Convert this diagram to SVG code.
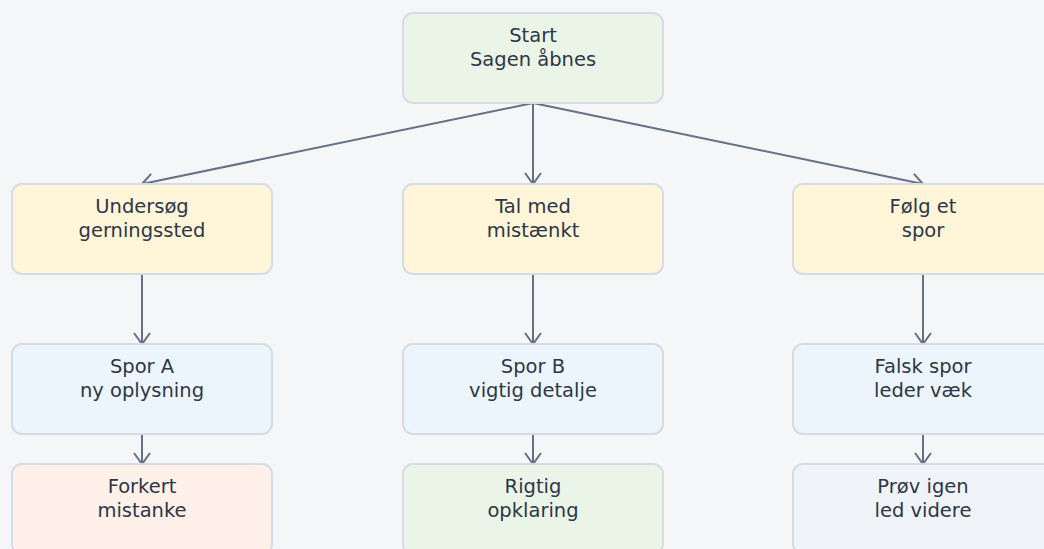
<svg xmlns="http://www.w3.org/2000/svg" width="1044" height="549" viewBox="0 0 1044 549">
<style>
.box{stroke:#d6dce4;stroke-width:2}
.t{font-family:"DejaVu Sans",sans-serif;font-size:19.5px;fill:#2d3748;text-anchor:middle}
.e{stroke:#667085;stroke-width:2;fill:none}
.green{fill:#eaf5e8}.yellow{fill:#fff5d8}.blue{fill:#edf5fc}.peach{fill:#fff0ea}.gray{fill:#f0f3f8}
</style>
<defs>
<marker id="arr" viewBox="-1 -1 14 18" refX="11" refY="8" markerWidth="14" markerHeight="18" markerUnits="userSpaceOnUse" orient="auto">
<path d="M0,0 L11,8 L0,16" fill="none" stroke="#667085" stroke-width="2" stroke-linejoin="miter"/>
</marker>
</defs>
<rect width="1044" height="549" fill="#f5f6f8"/>
<g id="connectors">
<path class="e" d="M533,103 L142,184" marker-end="url(#arr)"/>
<path class="e" d="M533,103 L533,184" marker-end="url(#arr)"/>
<path class="e" d="M533,103 L923,184" marker-end="url(#arr)"/>
<path class="e" d="M142,274 L142,344" marker-end="url(#arr)"/>
<path class="e" d="M533,274 L533,344" marker-end="url(#arr)"/>
<path class="e" d="M923,274 L923,344" marker-end="url(#arr)"/>
<path class="e" d="M142,434 L142,464" marker-end="url(#arr)"/>
<path class="e" d="M533,434 L533,464" marker-end="url(#arr)"/>
<path class="e" d="M923,434 L923,464" marker-end="url(#arr)"/>
</g>
<g id="start"><rect class="box green" x="403" y="13" width="260" height="90" rx="10"/><text class="t" x="533" y="42">Start</text><text class="t" x="533" y="65.5">Sagen åbnes</text></g>
<g id="undersoeg"><rect class="box yellow" x="12" y="184" width="260" height="90" rx="10"/><text class="t" x="142" y="213">Undersøg</text><text class="t" x="142" y="236.5">gerningssted</text></g>
<g id="tal"><rect class="box yellow" x="403" y="184" width="260" height="90" rx="10"/><text class="t" x="533" y="213">Tal med</text><text class="t" x="533" y="236.5">mistænkt</text></g>
<g id="foelg"><rect class="box yellow" x="793" y="184" width="260" height="90" rx="10"/><text class="t" x="923" y="213">Følg et</text><text class="t" x="923" y="236.5">spor</text></g>
<g id="sporA"><rect class="box blue" x="12" y="344" width="260" height="90" rx="10"/><text class="t" x="142" y="373">Spor A</text><text class="t" x="142" y="396.5">ny oplysning</text></g>
<g id="sporB"><rect class="box blue" x="403" y="344" width="260" height="90" rx="10"/><text class="t" x="533" y="373">Spor B</text><text class="t" x="533" y="396.5">vigtig detalje</text></g>
<g id="falsk"><rect class="box blue" x="793" y="344" width="260" height="90" rx="10"/><text class="t" x="923" y="373">Falsk spor</text><text class="t" x="923" y="396.5">leder væk</text></g>
<g id="forkert"><rect class="box peach" x="12" y="464" width="260" height="90" rx="10"/><text class="t" x="142" y="493">Forkert</text><text class="t" x="142" y="516.5">mistanke</text></g>
<g id="rigtig"><rect class="box green" x="403" y="464" width="260" height="90" rx="10"/><text class="t" x="533" y="493">Rigtig</text><text class="t" x="533" y="516.5">opklaring</text></g>
<g id="proev"><rect class="box gray" x="793" y="464" width="260" height="90" rx="10"/><text class="t" x="923" y="493">Prøv igen</text><text class="t" x="923" y="516.5">led videre</text></g>
</svg>
